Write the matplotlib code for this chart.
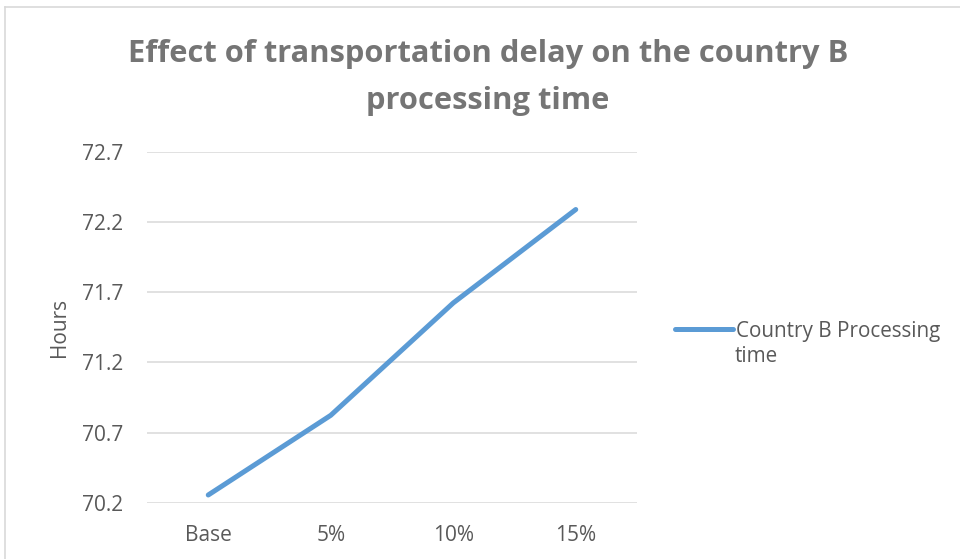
import matplotlib
matplotlib.use("Agg")
import matplotlib.pyplot as plt
from matplotlib.lines import Line2D

categories = ["Base", "5%", "10%", "15%"]
processing_time = [70.255, 70.823, 71.624, 72.290]
y_ticks = [70.2, 70.7, 71.2, 71.7, 72.2, 72.7]
series_name = "Country B Processing"
series_name_cont = "time"
title = "Effect of transportation delay on the country B\nprocessing time"

plt.rcParams['font.family'] = ['Open Sans', 'DejaVu Sans']
W, H = 960, 559
fig = plt.figure(figsize=(W / 100, H / 100), dpi=100)
ax = fig.add_axes([147 / W, 1 - 502.7 / H, (637 - 147) / W, (502.7 - 152) / H])

x = list(range(len(categories)))
ax.plot(x, processing_time, color="#5B9BD5", lw=3.6, solid_capstyle="round",
        solid_joinstyle="round", label=series_name, zorder=3)

ax.set_xlim(-0.5, len(categories) - 0.5)
ax.set_ylim(y_ticks[0], y_ticks[-1])
ax.set_yticks(y_ticks)
ax.set_yticklabels([f"{v:.1f}" for v in y_ticks])
ax.set_xticks(x)
ax.set_xticklabels(categories)
ax.grid(axis="y", color="#D9D9D9", lw=1.1)
ax.set_axisbelow(True)
for s in ax.spines.values():
    s.set_visible(False)
ax.tick_params(axis="both", length=0, labelsize=15, colors="#595959")
ax.tick_params(axis="y", pad=17)
ax.tick_params(axis="x", pad=16)
ax.set_ylabel("Hours", fontsize=15, color="#595959", labelpad=9)

fig.text(488 / W, 1 - 77.5 / H, title, ha="center", va="center", fontsize=22.2,
         fontweight="bold", color="#757575", linespacing=1.7)

leg = ax.legend(loc="center left", bbox_to_anchor=(665 / W, 1 - 331 / H),
                bbox_transform=fig.transFigure, frameon=False, fontsize=14.9,
                handlelength=2.8, handletextpad=0.15, borderpad=0, labelcolor="#595959")
fig.text(735 / W, 1 - 357 / H, series_name_cont, ha="left", va="center",
         fontsize=14.9, color="#595959")

# chart area border
fig.add_artist(Line2D([5 / W, 5 / W], [0, 1 - 7 / H], color="#D9D9D9", lw=1.2))
fig.add_artist(Line2D([5 / W, 1], [1 - 7 / H, 1 - 7 / H], color="#D9D9D9", lw=1.2))

fig.savefig("out.png", dpi=100)
